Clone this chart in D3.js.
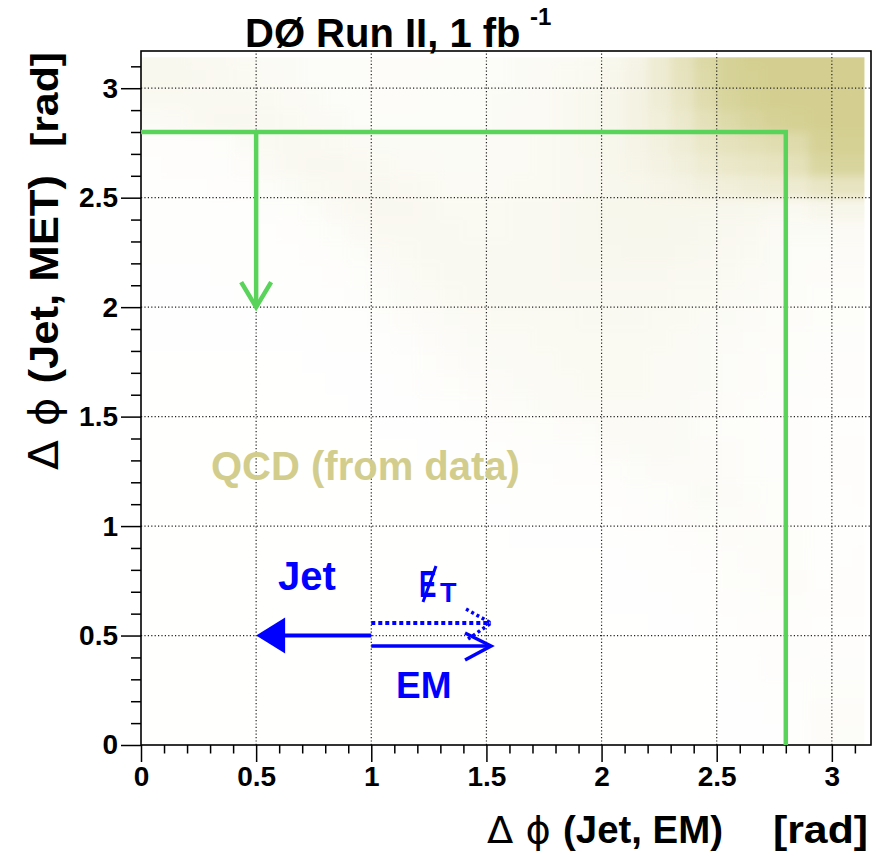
<!DOCTYPE html>
<html><head><meta charset="utf-8">
<script src="https://cdn.jsdelivr.net/npm/d3@7"></script>
<style>
body{margin:0;background:#fff}
svg{display:block}
text{font-family:"Liberation Sans",Arial,Helvetica,sans-serif}
</style>
</head><body>
<svg id="chart" width="882" height="856"></svg>
<script>
// ---------- data ----------
const xBinEdges = [0,0.1,0.2,0.3,0.4,0.5,0.6,0.7,0.8,0.9,1.0,1.1,1.2,1.3,1.4,1.5,1.6,1.7,1.8,1.9,2.0,2.1,2.2,2.3,2.4,2.5,2.6,2.7,2.8,2.9,3.0,3.1,3.1416];
const yBinEdges = [0,0.1,0.2,0.3,0.4,0.5,0.6,0.7,0.8,0.9,1.0,1.1,1.2,1.3,1.4,1.5,1.6,1.7,1.8,1.9,2.0,2.1,2.2,2.3,2.4,2.5,2.6,2.7,2.8,2.9,3.0,3.1,3.1416];
// estimated % of each bin covered by QCD events; rows from top (y 3.1-pi) to bottom (y 0-0.1)
const density = [
 [4,4,3,3,2, 1.5,1.5,1,1,1, 0.8,0.8,0.8,1,1, 1,1.5,1.5,2,2.5, 4,8,20,40,65, 85,92,92,92,92,92,92],
 [4,4,3.5,3,2.5, 2,1.5,1,1,1, 0.8,0.8,1,1,1, 1,1.5,2,2.5,3, 5,9,20,38,62, 85,90,92,92,92,92,92],
 [3,3,3,3,3, 2.5,2,1.5,1,1, 0.8,0.8,1,1,1, 1.5,1.5,2,3,4, 6,10,18,32,55, 78,88,92,92,92,92,92],
 [1.5,2,3,3.5,3.5, 3,2.5,2,1.5,1, 1,1,1,1,1, 1.5,2,2,3,4, 6,10,15,25,42, 62,76,86,90,92,92,92],
 [0.3,0.3,0.3,0.5,1.5, 2.5,3,3,2.5,2, 1.5,1.5,1.5,1.5,1.5, 2,2,2.5,3,4, 5,8,12,18,28, 40,46,52,58,86,90,90],
 [0.2,0.3,0.3,0.4,0.8, 2,3,3.5,3.5,3, 2.5,2,2,1.5,1.5, 2,2,2.5,3,3.5, 5,7,10,14,20, 28,32,36,42,72,78,78],
 [0.1,0.2,0.2,0.3,0.3, 1,1.5,2.5,3,3.5, 3.5,3,2.5,2,2, 2,2.5,2.5,3,3.5, 4.5,5,7,9,12, 15,18,20,22,32,36,36],
 [0.1,0.1,0.1,0.1,0.2, 0.4,0.6,1,2,3, 3.5,3.5,3,2.5,2.5, 2.5,3,3,3.5,4, 5,5,5,5,5, 4.5,4,3.5,3,5,6,6],
 [0.1,0.1,0.1,0.1,0.1, 0.2,0.3,0.5,1,2, 3,3,3,3,2.5, 2.5,3,3,3.5,4, 4.5,5,5,4.5,4, 3.5,3,2,1.5,1.5,2,2],
 [0.1,0.1,0.1,0.1,0.1, 0.1,0.2,0.3,0.5,1, 2,2.5,3,3,3, 3,3,3,3.5,4, 4,4.5,4.5,4,3.5, 3,2.5,1.5,1,1,1.2,1.2],
 [0.05,0.05,0.05,0.1,0.1, 0.1,0.1,0.2,0.3,0.6, 1.2,2,2.5,3,3, 3,3,3,3.5,3.5, 3.5,3.5,3.5,3,3, 2.5,2,1.5,1,0.8,0.8,0.8],
 [0.05,0.05,0.05,0.05,0.1, 0.1,0.1,0.1,0.2,0.4, 1,1.5,2,2.5,3, 3,3,3,3,3, 3,3,3,2.5,2.5, 2,1.5,1.2,1,0.6,0.6,0.6],
 [0.05,0.05,0.05,0.05,0.05, 0.05,0.05,0.1,0.1,0.2, 0.4,0.8,1.2,1.5,2, 2.5,2.5,2.5,2.5,3, 3,3,2.5,2.5,2, 1.5,1.2,1,0.8,0.5,0.5,0.5],
 [0.05,0.05,0.05,0.05,0.05, 0.05,0.05,0.05,0.1,0.1, 0.2,0.4,0.8,1.2,1.5, 2,2,2.5,2.5,2.5, 2.5,2.5,2.5,2,1.5, 1.2,1,0.8,0.6,0.4,0.4,0.4],
 [0.03,0.03,0.03,0.03,0.03, 0.03,0.03,0.05,0.05,0.05, 0.1,0.2,0.5,0.8,1.2, 1.5,2,2,2.5,2.5, 2.5,2.5,2,2,1.5, 1,0.8,0.6,0.5,0.3,0.3,0.3],
 [0.03,0.03,0.03,0.03,0.03, 0.03,0.03,0.03,0.05,0.05, 0.05,0.1,0.3,0.5,0.8, 1.2,1.5,2,2,2.5, 2.5,2.5,2,2,1.5, 1,0.8,0.5,0.4,0.3,0.3,0.3],
 [0.03,0.03,0.03,0.03,0.03, 0.03,0.03,0.03,0.03,0.05, 0.05,0.05,0.1,0.2,0.4, 0.8,1,1.5,2,2, 2,2,2,1.5,1.2, 0.8,0.5,0.4,0.3,0.2,0.2,0.2],
 [0.03,0.03,0.03,0.03,0.03, 0.03,0.03,0.03,0.03,0.03, 0.05,0.05,0.05,0.1,0.2, 0.3,0.5,0.6,0.8,1, 2,2,2,1.5,1, 0.6,0.5,0.3,0.3,0.2,0.2,0.2],
 [0.03,0.03,0.03,0.03,0.03, 0.03,0.03,0.03,0.03,0.03, 0.03,0.03,0.05,0.05,0.1, 0.2,0.3,0.4,0.4,0.5, 1.2,1.5,1.8,1.5,1.2, 0.8,0.5,0.4,0.3,0.2,0.3,0.3],
 [0.03,0.03,0.03,0.03,0.03, 0.03,0.03,0.03,0.03,0.03, 0.03,0.03,0.03,0.05,0.05, 0.1,0.2,0.2,0.3,0.3, 0.6,1,1.2,1.2,1.2, 0.8,0.5,0.4,0.3,0.2,0.3,0.3],
 [0.03,0.03,0.03,0.03,0.03, 0.03,0.03,0.03,0.03,0.03, 0.03,0.03,0.03,0.03,0.03, 0.1,0.1,0.1,0.2,0.2, 0.3,0.4,0.6,1,1.5, 1.2,1,0.6,0.3,0.2,0.2,0.3],
 [0.03,0.03,0.03,0.03,0.03, 0.03,0.03,0.03,0.03,0.03, 0.03,0.03,0.03,0.03,0.03, 0.05,0.1,0.1,0.1,0.1, 0.2,0.3,0.4,0.8,1, 1,0.8,0.6,0.3,0.2,0.2,0.2],
 [0.03,0.03,0.03,0.03,0.03, 0.03,0.03,0.03,0.03,0.03, 0.03,0.03,0.03,0.03,0.03, 0.03,0.05,0.05,0.05,0.05, 0.1,0.1,0.2,0.3,0.5, 0.8,1,0.8,0.5,0.2,0.2,0.2],
 [0.03,0.03,0.03,0.03,0.03, 0.03,0.03,0.03,0.03,0.03, 0.03,0.03,0.03,0.03,0.03, 0.03,0.03,0.03,0.03,0.03, 0.05,0.1,0.1,0.2,0.3, 0.6,0.8,0.8,0.6,0.2,0.2,0.3],
 [0.03,0.03,0.03,0.03,0.03, 0.03,0.03,0.03,0.03,0.03, 0.03,0.03,0.03,0.03,0.03, 0.03,0.03,0.03,0.03,0.03, 0.05,0.05,0.1,0.1,0.2, 0.5,0.6,0.8,0.7,0.2,0.3,0.3],
 [0.03,0.03,0.03,0.03,0.03, 0.03,0.03,0.03,0.03,0.03, 0.03,0.03,0.03,0.03,0.03, 0.03,0.03,0.03,0.03,0.03, 0.05,0.05,0.05,0.1,0.1, 0.3,0.4,0.5,0.5,0.3,0.3,0.3],
 [0.03,0.03,0.03,0.03,0.03, 0.03,0.03,0.03,0.03,0.03, 0.03,0.03,0.03,0.03,0.03, 0.03,0.03,0.03,0.03,0.03, 0.03,0.03,0.05,0.05,0.1, 0.2,0.3,0.3,0.3,0.2,0.2,0.2],
 [0.03,0.03,0.03,0.03,0.03, 0.03,0.03,0.03,0.03,0.03, 0.03,0.03,0.03,0.03,0.03, 0.03,0.03,0.03,0.03,0.03, 0.03,0.03,0.03,0.03,0.03, 0.1,0.2,0.3,0.4,0.3,0.3,0.3],
 [0.03,0.03,0.03,0.03,0.03, 0.03,0.03,0.03,0.03,0.03, 0.03,0.03,0.03,0.03,0.03, 0.03,0.03,0.03,0.03,0.03, 0.03,0.03,0.03,0.03,0.03, 0.1,0.1,0.3,0.3,0.4,0.4,0.4],
 [0.03,0.03,0.03,0.03,0.03, 0.03,0.03,0.03,0.03,0.03, 0.03,0.03,0.03,0.03,0.03, 0.03,0.03,0.03,0.03,0.03, 0.03,0.03,0.03,0.03,0.03, 0.05,0.1,0.1,0.2,0.6,0.6,0.6],
 [0.03,0.03,0.03,0.03,0.03, 0.03,0.03,0.03,0.03,0.03, 0.03,0.03,0.03,0.03,0.03, 0.03,0.03,0.03,0.03,0.03, 0.03,0.03,0.03,0.03,0.03, 0.05,0.05,0.1,0.2,0.8,0.8,0.8],
 [0.03,0.03,0.03,0.03,0.03, 0.03,0.03,0.03,0.03,0.03, 0.03,0.03,0.03,0.03,0.03, 0.03,0.03,0.03,0.03,0.03, 0.03,0.03,0.03,0.03,0.03, 0.05,0.05,0.05,0.1,0.8,1,1]
];
const xTicks = [0,0.5,1,1.5,2,2.5,3];
const xTickLabels = ["0","0.5","1","1.5","2","2.5","3"];
const yTicks = [0,0.5,1,1.5,2,2.5,3];
const yTickLabels = ["0","0.5","1","1.5","2","2.5","3"];
const minorTicks = [0.1,0.2,0.3,0.4,0.6,0.7,0.8,0.9,1.1,1.2,1.3,1.4,1.6,1.7,1.8,1.9,2.1,2.2,2.3,2.4,2.6,2.7,2.8,2.9,3.1];
const cutCorner = [2.8, 2.8];          // Δφ(Jet,EM) and Δφ(Jet,MET) cut
const cutArrow = {x: 0.5, from: 2.8, to: 2.0};
const jetArrow = {from: 1.0, to: 0.5, y: 0.5};
const emArrow  = {from: 1.0, to: 1.52, y: 0.452};
const metArrow = {from: 1.0, to: 1.52, y: 0.557};

// ---------- drawing ----------
const svg = d3.select("#chart");
const khaki = "#d2cd8c", green = "#5ad35a", blue = "#0000ff";
const x = d3.scaleLinear().domain([0, 3.17]).range([141, 871]);
const y = d3.scaleLinear().domain([0, 3.17]).range([745, 51]);
const nB = xBinEdges.length - 1;

const defs = svg.append("defs");
defs.append("filter").attr("id","soft").attr("x","-5%").attr("y","-5%").attr("width","110%").attr("height","110%")
  .append("feGaussianBlur").attr("stdDeviation",5);
defs.append("clipPath").attr("id","dataArea").append("rect")
  .attr("x", x(0)).attr("y", y(xBinEdges[nB]))
  .attr("width", x(xBinEdges[nB]) - x(0)).attr("height", y(0) - y(yBinEdges[nB]));

// density cells (edge cells padded outward so the soft edge stays sharp at the data border)
const pad = 20;
const cells = [];
density.forEach((row, r) => row.forEach((v, c) => {
  cells.push({c, b: nB-1-r, x0: xBinEdges[c], x1: xBinEdges[c+1], y0: yBinEdges[nB-1-r], y1: yBinEdges[nB-r], v});
}));
svg.append("g").attr("clip-path","url(#dataArea)")
  .append("g").attr("filter","url(#soft)")
  .selectAll("rect").data(cells).join("rect")
  .attr("shape-rendering","crispEdges")
  .attr("x", d => Math.round(x(d.x0)) - (d.c === 0 ? pad : 0))
  .attr("width", d => Math.round(x(d.x1)) - Math.round(x(d.x0)) + (d.c === 0 ? pad : 0) + (d.c === nB-1 ? pad : 0))
  .attr("y", d => Math.round(y(d.y1)) - (d.b === nB-1 ? pad : 0))
  .attr("height", d => Math.round(y(d.y0)) - Math.round(y(d.y1)) + (d.b === nB-1 ? pad : 0) + (d.b === 0 ? pad : 0))
  .attr("fill", khaki)
  .attr("fill-opacity", d => Math.pow(d.v/100, 0.6));

// grid
const grid = svg.append("g").attr("stroke","#222").attr("stroke-width",1.2).attr("stroke-dasharray","1.2,2.2");
grid.selectAll("line.gx").data(xTicks.slice(1)).join("line")
  .attr("x1", d => x(d)).attr("x2", d => x(d)).attr("y1", y(0)).attr("y2", y(3.17));
grid.selectAll("line.gy").data(yTicks.slice(1)).join("line")
  .attr("y1", d => y(d)).attr("y2", d => y(d)).attr("x1", x(0)).attr("x2", x(3.17));

// axes
const styleAxis = g => {
  g.select(".domain").remove();
  g.selectAll(".tick line").attr("stroke","#000").attr("stroke-width",1.5);
  g.selectAll("text").attr("font-size",28).attr("font-weight","bold").attr("fill","#000")
    .attr("font-family",'"Liberation Sans",Arial,sans-serif');
};
svg.append("g").attr("transform",`translate(0,${y(0)})`)
  .call(d3.axisBottom(x).tickValues(xTicks).tickSize(17).tickPadding(4)
        .tickFormat((d,i) => xTickLabels[i])).call(styleAxis);
svg.append("g").attr("transform",`translate(0,${y(0)})`)
  .call(d3.axisBottom(x).tickValues(minorTicks).tickSize(8.5).tickFormat("")).call(styleAxis);
svg.append("g").attr("transform",`translate(${x(0)},0)`)
  .call(d3.axisLeft(y).tickValues(yTicks).tickSize(20).tickPadding(3)
        .tickFormat((d,i) => yTickLabels[i])).call(styleAxis);
svg.append("g").attr("transform",`translate(${x(0)},0)`)
  .call(d3.axisLeft(y).tickValues(minorTicks).tickSize(10).tickFormat("")).call(styleAxis);

// frame
svg.append("rect").attr("x", x(0)).attr("y", y(3.17))
  .attr("width", x(3.17)-x(0)).attr("height", y(0)-y(3.17))
  .attr("fill","none").attr("stroke","#000").attr("stroke-width",1.6);

// green cut lines
svg.append("path")
  .attr("d", `M${x(0)},${y(cutCorner[1])}L${x(cutCorner[0])},${y(cutCorner[1])}L${x(cutCorner[0])},${y(0)}`)
  .attr("fill","none").attr("stroke",green).attr("stroke-width",4.5).attr("stroke-linejoin","miter");
svg.append("line")
  .attr("x1", x(cutArrow.x)).attr("x2", x(cutArrow.x))
  .attr("y1", y(cutArrow.from)).attr("y2", y(cutArrow.to))
  .attr("stroke",green).attr("stroke-width",4.5);
svg.append("path")
  .attr("d", `M${x(cutArrow.x)-15},${y(cutArrow.to)-25}L${x(cutArrow.x)},${y(cutArrow.to)}L${x(cutArrow.x)+15},${y(cutArrow.to)-25}`)
  .attr("fill","none").attr("stroke",green).attr("stroke-width",4.5);

// blue arrows
svg.append("line").attr("x1", x(jetArrow.from)).attr("x2", x(jetArrow.to)+26)
  .attr("y1", y(jetArrow.y)).attr("y2", y(jetArrow.y)).attr("stroke",blue).attr("stroke-width",4);
svg.append("path")
  .attr("d", `M${x(jetArrow.to)},${y(jetArrow.y)}L${x(jetArrow.to)+29},${y(jetArrow.y)-18}L${x(jetArrow.to)+29},${y(jetArrow.y)+18}Z`)
  .attr("fill",blue);
svg.append("line").attr("x1", x(emArrow.from)).attr("x2", x(emArrow.to))
  .attr("y1", y(emArrow.y)).attr("y2", y(emArrow.y)).attr("stroke",blue).attr("stroke-width",3.5);
svg.append("path")
  .attr("d", `M${x(emArrow.to)-26},${y(emArrow.y)-13}L${x(emArrow.to)},${y(emArrow.y)}L${x(emArrow.to)-26},${y(emArrow.y)+14}`)
  .attr("fill","none").attr("stroke",blue).attr("stroke-width",3.5);
svg.append("line").attr("x1", x(metArrow.from)).attr("x2", x(metArrow.to))
  .attr("y1", y(metArrow.y)).attr("y2", y(metArrow.y)).attr("stroke",blue).attr("stroke-width",4)
  .attr("stroke-dasharray","4,3");
svg.append("path")
  .attr("d", `M${x(metArrow.to)-25},${y(metArrow.y)-14}L${x(metArrow.to)},${y(metArrow.y)}L${x(metArrow.to)-23},${y(metArrow.y)+16}`)
  .attr("fill","none").attr("stroke",blue).attr("stroke-width",3.5).attr("stroke-dasharray","3,3");

// annotation texts
const bold = (sel) => sel.attr("font-weight","bold");
bold(svg.append("text").attr("x",307).attr("y",590).attr("text-anchor","middle")
  .attr("font-size",40).attr("fill",blue).text("Jet"));
bold(svg.append("text").attr("transform","translate(419,597) scale(1,1.4)")
  .attr("font-size",26).attr("fill",blue).text("E"));
svg.append("line").attr("x1",423).attr("y1",602).attr("x2",436).attr("y2",566)
  .attr("stroke",blue).attr("stroke-width",3);
bold(svg.append("text").attr("x",440).attr("y",602).attr("font-size",27).attr("fill",blue).text("T"));
bold(svg.append("text").attr("x",396).attr("y",698).attr("font-size",37).attr("fill",blue).text("EM"));
bold(svg.append("text").attr("x",211).attr("y",480).attr("font-size",40).attr("fill",khaki).text("QCD (from data)"));

// title
const title = svg.append("text").attr("x",245).attr("y",47).attr("font-size",40).attr("font-weight","bold");
title.append("tspan").text("DØ Run II, 1 fb");
title.append("tspan").attr("x",530).attr("y",25).attr("font-size",24).text("-1");

// axis titles
const greek = '"DejaVu Sans",sans-serif';
const xt = svg.append("text").attr("x",487).attr("y",843).attr("font-size",38).attr("font-weight","bold")
  .attr("textLength",236).attr("lengthAdjust","spacingAndGlyphs");
xt.append("tspan").attr("font-weight","normal").attr("font-family",greek).text("Δ ϕ ");
xt.append("tspan").text("(Jet, EM)");
svg.append("text").attr("x",868).attr("y",843).attr("text-anchor","end")
  .attr("font-size",38).attr("font-weight","bold")
  .attr("textLength",95).attr("lengthAdjust","spacingAndGlyphs").text("[rad]");

const yt = svg.append("text").attr("transform","translate(58,470) rotate(-90)")
  .attr("font-size",40).attr("font-weight","bold")
  .attr("textLength",295).attr("lengthAdjust","spacingAndGlyphs");
yt.append("tspan").attr("font-weight","normal").attr("font-family",greek).text("Δ ϕ ");
yt.append("tspan").text("(Jet, MET)");
svg.append("text").attr("transform","translate(58,147) rotate(-90)")
  .attr("font-size",38).attr("font-weight","bold")
  .attr("textLength",95).attr("lengthAdjust","spacingAndGlyphs").text("[rad]");
</script>
</body></html>
